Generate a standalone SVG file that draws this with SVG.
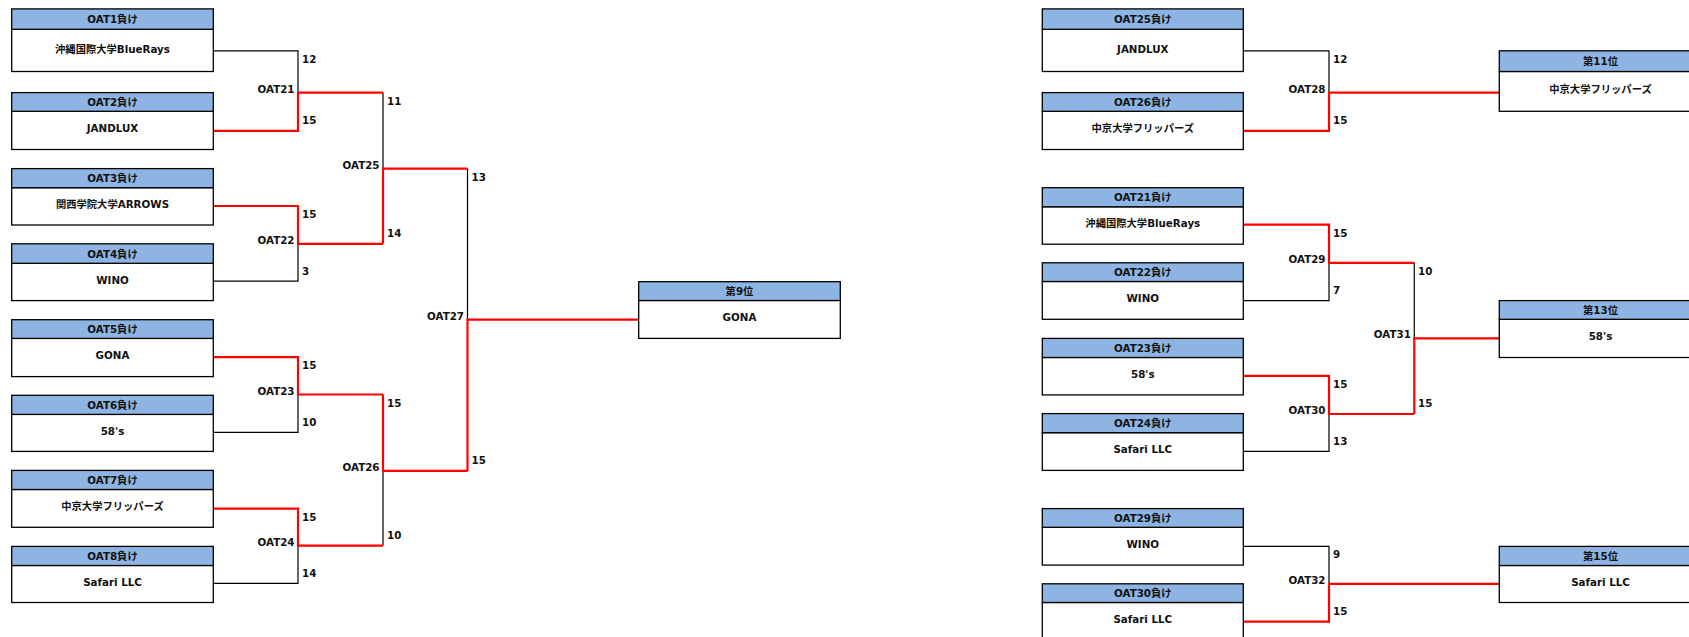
<svg xmlns="http://www.w3.org/2000/svg" width="1689" height="637" viewBox="0 0 1689 637">
<style>
.bg{fill:#fff}
.hd{fill:#8DB4E2;stroke:#000;stroke-width:1.3}
.bd{fill:#fff;stroke:#000;stroke-width:1.3}
.t{font-family:"DejaVu Sans","Noto Sans CJK JP",sans-serif;font-weight:bold;font-size:10.3px;fill:#111;text-anchor:middle;dominant-baseline:central}
.l{text-anchor:end}
.s{text-anchor:start}
.bk{stroke:#000;stroke-width:1.2;fill:none}
.rd{stroke:#f00;stroke-width:2.2;fill:none}
</style>
<rect class="bg" x="0" y="0" width="1689" height="637"/>
<g id="connectors">
<path class="bk" d="M213.3,50.8H298V92.6 M213.3,281.1H298V243.8 M213.3,432.3H298V394.5 M213.3,583.4H298V545.6 M383,92.6V168.6 M383,470.9V545.6 M467.5,168.6V319.7"/>
<path class="bk" d="M1243.3,50.8H1329V92.6 M1243.3,300.6H1329V262.8 M1243.3,451.4H1329V414 M1414.3,262.8V338.4 M1243.3,546.4H1329V583.8"/>
<path class="rd" d="M213.3,130.8H298V92.6H383 M213.3,206H298V243.8H383 M213.3,357.1H298V394.5H383 M213.3,508.6H298V545.6H383 M383,243.8V168.6H467.5 M383,394.5V470.9H467.5 M467.5,470.9V319.7H638.7"/>
<path class="rd" d="M1243.3,130.8H1329V92.6H1499.3 M1243.3,224.7H1329V262.8H1414.3 M1243.3,375.8H1329V414H1414.3 M1414.3,414V338.4H1499.3 M1243.3,621.6H1329V583.8H1499.3"/>
</g>
<g id="match-labels">
<text class="t l" x="294.5" y="88.6">OAT21</text>
<text class="t l" x="294.5" y="239.8">OAT22</text>
<text class="t l" x="294.5" y="390.5">OAT23</text>
<text class="t l" x="294.5" y="541.6">OAT24</text>
<text class="t l" x="379.5" y="164.6">OAT25</text>
<text class="t l" x="379.5" y="466.9">OAT26</text>
<text class="t l" x="464" y="315.7">OAT27</text>
<text class="t l" x="1325.5" y="88.6">OAT28</text>
<text class="t l" x="1325.5" y="258.8">OAT29</text>
<text class="t l" x="1325.5" y="410">OAT30</text>
<text class="t l" x="1410.8" y="334.4">OAT31</text>
<text class="t l" x="1325.5" y="579.8">OAT32</text>
</g>
<g id="scores">
<text class="t s" x="302" y="59">12</text>
<text class="t s" x="302" y="120.3">15</text>
<text class="t s" x="302" y="213.7">15</text>
<text class="t s" x="302" y="271">3</text>
<text class="t s" x="302" y="364.8">15</text>
<text class="t s" x="302" y="421.7">10</text>
<text class="t s" x="302" y="516.8">15</text>
<text class="t s" x="302" y="572.8">14</text>
<text class="t s" x="387" y="100.8">11</text>
<text class="t s" x="387" y="232.8">14</text>
<text class="t s" x="387" y="403">15</text>
<text class="t s" x="387" y="534.6">10</text>
<text class="t s" x="471.5" y="177">13</text>
<text class="t s" x="471.5" y="459.5">15</text>
<text class="t s" x="1333" y="58.9">12</text>
<text class="t s" x="1333" y="120.3">15</text>
<text class="t s" x="1333" y="232.8">15</text>
<text class="t s" x="1333" y="289.7">7</text>
<text class="t s" x="1333" y="383.9">15</text>
<text class="t s" x="1333" y="440.8">13</text>
<text class="t s" x="1418" y="271">10</text>
<text class="t s" x="1418" y="403">15</text>
<text class="t s" x="1333" y="553.7">9</text>
<text class="t s" x="1333" y="611">15</text>
</g>
<g id="L1"><rect class="bd" x="11.7" y="29.3" width="201.6" height="42.2"/><rect class="hd" x="11.7" y="8.9" width="201.6" height="20.4"/><text class="t" x="112.5" y="19.1">OAT1負け</text><text class="t" x="112.5" y="49">沖縄国際大学BlueRays</text></g>
<g id="L2"><rect class="bd" x="11.7" y="111.3" width="201.6" height="38.2"/><rect class="hd" x="11.7" y="92.6" width="201.6" height="18.7"/><text class="t" x="112.5" y="102">OAT2負け</text><text class="t" x="112.5" y="128">JANDLUX</text></g>
<g id="L3"><rect class="bd" x="11.7" y="187.7" width="201.6" height="37.3"/><rect class="hd" x="11.7" y="168.6" width="201.6" height="19.1"/><text class="t" x="112.5" y="178.2">OAT3負け</text><text class="t" x="112.5" y="204.4">関西学院大学ARROWS</text></g>
<g id="L4"><rect class="bd" x="11.7" y="263.3" width="201.6" height="37.3"/><rect class="hd" x="11.7" y="243.8" width="201.6" height="19.5"/><text class="t" x="112.5" y="253.5">OAT4負け</text><text class="t" x="112.5" y="280">WINO</text></g>
<g id="L5"><rect class="bd" x="11.7" y="338.4" width="201.6" height="38.2"/><rect class="hd" x="11.7" y="319.7" width="201.6" height="18.7"/><text class="t" x="112.5" y="329">OAT5負け</text><text class="t" x="112.5" y="355.1">GONA</text></g>
<g id="L6"><rect class="bd" x="11.7" y="414.4" width="201.6" height="37"/><rect class="hd" x="11.7" y="395.3" width="201.6" height="19.1"/><text class="t" x="112.5" y="404.8">OAT6負け</text><text class="t" x="112.5" y="431">58's</text></g>
<g id="L7"><rect class="bd" x="11.7" y="489.5" width="201.6" height="37.8"/><rect class="hd" x="11.7" y="470.4" width="201.6" height="19.1"/><text class="t" x="112.5" y="480">OAT7負け</text><text class="t" x="112.5" y="506.4">中京大学フリッパーズ</text></g>
<g id="L8"><rect class="bd" x="11.7" y="565.5" width="201.6" height="37"/><rect class="hd" x="11.7" y="546.4" width="201.6" height="19.1"/><text class="t" x="112.5" y="556">OAT8負け</text><text class="t" x="112.5" y="582.2">Safari LLC</text></g>
<g id="P9"><rect class="bd" x="638.7" y="300.5" width="201.6" height="37.9"/><rect class="hd" x="638.7" y="281.7" width="201.6" height="18.8"/><text class="t" x="739.5" y="291.1">第9位</text><text class="t" x="739.5" y="317.4">GONA</text></g>
<g id="R1"><rect class="bd" x="1042.3" y="29.3" width="201" height="42.2"/><rect class="hd" x="1042.3" y="8.9" width="201" height="20.4"/><text class="t" x="1142.8" y="19.1">OAT25負け</text><text class="t" x="1142.8" y="48.5">JANDLUX</text></g>
<g id="R2"><rect class="bd" x="1042.3" y="111.3" width="201" height="38.2"/><rect class="hd" x="1042.3" y="92.6" width="201" height="18.7"/><text class="t" x="1142.8" y="102">OAT26負け</text><text class="t" x="1142.8" y="128">中京大学フリッパーズ</text></g>
<g id="R3"><rect class="bd" x="1042.3" y="206.8" width="201" height="37.4"/><rect class="hd" x="1042.3" y="187.7" width="201" height="19.1"/><text class="t" x="1142.8" y="197.2">OAT21負け</text><text class="t" x="1142.8" y="223.4">沖縄国際大学BlueRays</text></g>
<g id="R4"><rect class="bd" x="1042.3" y="281.5" width="201" height="37.8"/><rect class="hd" x="1042.3" y="262.8" width="201" height="18.7"/><text class="t" x="1142.8" y="272.2">OAT22負け</text><text class="t" x="1142.8" y="298.2">WINO</text></g>
<g id="R5"><rect class="bd" x="1042.3" y="357.5" width="201" height="37.4"/><rect class="hd" x="1042.3" y="338.4" width="201" height="19.1"/><text class="t" x="1142.8" y="348">OAT23負け</text><text class="t" x="1142.8" y="374.2">58's</text></g>
<g id="R6"><rect class="bd" x="1042.3" y="432.7" width="201" height="37.7"/><rect class="hd" x="1042.3" y="413.6" width="201" height="19.1"/><text class="t" x="1142.8" y="423.2">OAT24負け</text><text class="t" x="1142.8" y="449.4">Safari LLC</text></g>
<g id="R7"><rect class="bd" x="1042.3" y="527.3" width="201" height="37.8"/><rect class="hd" x="1042.3" y="508.6" width="201" height="18.7"/><text class="t" x="1142.8" y="518">OAT29負け</text><text class="t" x="1142.8" y="544">WINO</text></g>
<g id="R8"><rect class="bd" x="1042.3" y="602.5" width="201" height="45"/><rect class="hd" x="1042.3" y="583.8" width="201" height="18.7"/><text class="t" x="1142.8" y="593.2">OAT30負け</text><text class="t" x="1142.8" y="619.2">Safari LLC</text></g>
<g id="P11"><rect class="bd" x="1499.3" y="71.5" width="201.6" height="39.8"/><rect class="hd" x="1499.3" y="50.8" width="201.6" height="20.7"/><text class="t" x="1600.5" y="61">第11位</text><text class="t" x="1600.5" y="88.6">中京大学フリッパーズ</text></g>
<g id="P13"><rect class="bd" x="1499.3" y="319.3" width="201.6" height="38.2"/><rect class="hd" x="1499.3" y="300.6" width="201.6" height="18.7"/><text class="t" x="1600.5" y="310">第13位</text><text class="t" x="1600.5" y="336">58's</text></g>
<g id="P15"><rect class="bd" x="1499.3" y="565.5" width="201.6" height="37"/><rect class="hd" x="1499.3" y="546.4" width="201.6" height="19.1"/><text class="t" x="1600.5" y="556">第15位</text><text class="t" x="1600.5" y="582">Safari LLC</text></g>
</svg>
